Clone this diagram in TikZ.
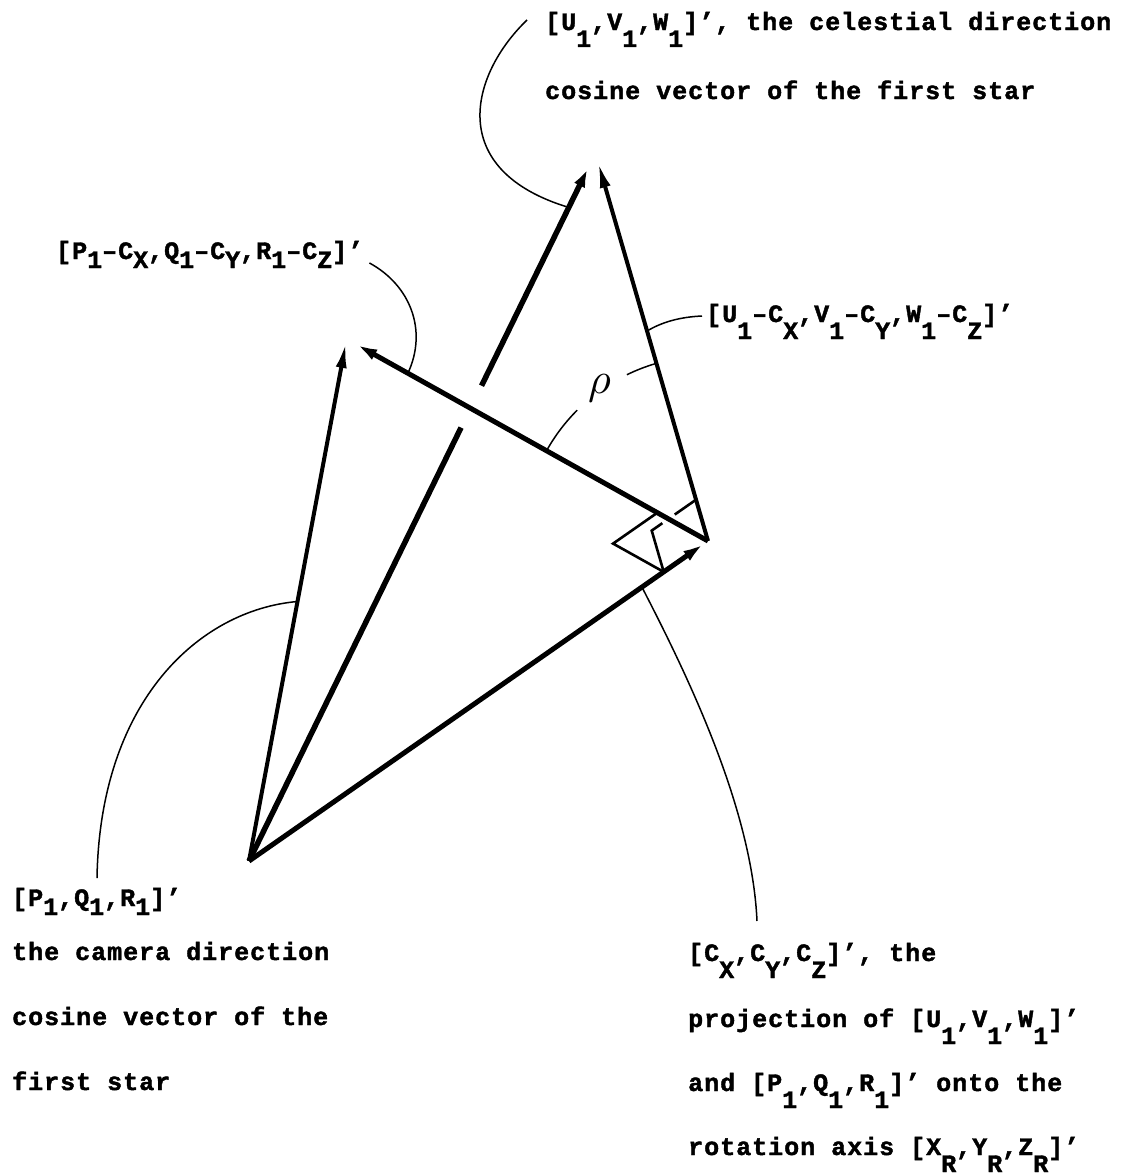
\documentclass[tikz,border=0pt]{standalone}
\usepackage{graphicx}
\usepackage{fontspec}
\newfontfamily\tw[LetterSpace=4,FakeBold=1.6]{Liberation Mono}
\usetikzlibrary{arrows.meta,calc}
\newcommand\dn[1]{\raisebox{-17pt}{#1}}
\newcommand\dm[1]{\raisebox{-9pt}{#1}}
\begin{document}
\begin{tikzpicture}[x=1pt,y=-1pt,
  lbl/.style={inner sep=0pt, anchor=base west, font=\tw\bfseries\fontsize{25}{25}\selectfont},
  vec/.style={line width=5pt, -{Latex[length=26pt,width=11pt]}},
  bar/.style={line width=5.5pt},
  lead/.style={line width=1.5pt},
  rmark/.style={line width=2.6pt, line join=miter}]
\useasboundingbox (0,0) rectangle (1142,1175);
% geometry
\coordinate (O) at (249,861);
\coordinate (P) at (346,342);
\coordinate (Pc) at (352,342);
\coordinate (C) at (708,541);
\coordinate (Uo) at (591,162);
\coordinate (Uc) at (598,162);
% vectors
\draw[vec, line width=4pt] (O) -- (P);
\draw[bar] (O) -- ($(O)!0.62!(Uo)$);
\draw[vec, line width=5.5pt] ($(O)!0.68!(Uo)$) -- (Uo);
\draw[vec] (O) -- (C);
\draw[vec, line width=4pt] (C) -- (Uc);
\draw[vec] (C) -- (Pc);
% right-angle marks
\coordinate (A) at ($(C)!58pt!(Pc)$);
\coordinate (B) at ($(C)!54pt!(O)$);
\coordinate (E) at ($(C)!43pt!(Uc)$);
\coordinate (L) at ($(A)+(B)-(C)$);
\coordinate (K) at ($(B)+(E)-(C)$);
\draw[rmark] (A) -- (L) -- (B);
\draw[rmark] (B) -- (K) -- ($(K)!0.24!(E)$);
\draw[rmark] ($(K)!0.52!(E)$) -- (E);
% rho angle
\draw[lead] (C) ++(-150.8:185) arc[start angle=-150.8, end angle=-135, radius=185];
\draw[lead] (C) ++(-116:185) arc[start angle=-116, end angle=-106.2, radius=185];
\node[inner sep=0pt] (rho) at ($(C)+(-125.5:187)$) {\scalebox{4.4}{$\rho$}};
% labels
\node[lbl] (tU) at (545,30) {[U\dn{1},V\dn{1},W\dn{1}]’, the celestial direction};
\node[lbl] (tU2) at (545,99) {cosine vector of the first star};
\node[lbl] (tPC) at (56,259) {[P\dm{1}–C\dm{X},Q\dm{1}–C\dm{Y},R\dm{1}–C\dm{Z}]’};
\node[lbl] (tUC) at (706,322) {[U\dn{1}–C\dn{X},V\dn{1}–C\dn{Y},W\dn{1}–C\dn{Z}]’};
\node[lbl] (tP) at (12,906) {[P\dm{1},Q\dm{1},R\dm{1}]’};
\node[lbl] (tP2) at (12,960) {the camera direction};
\node[lbl] (tP3) at (12,1025) {cosine vector of the};
\node[lbl] (tP4) at (12,1090) {first star};
\node[lbl] (tC) at (688,961) {[C\dn{X},C\dn{Y},C\dn{Z}]’, the};
\node[lbl] (tC2) at (688,1027) {projection of [U\dn{1},V\dn{1},W\dn{1}]’};
\node[lbl] (tC3) at (688,1091) {and [P\dn{1},Q\dn{1},R\dn{1}]’ onto the};
\node[lbl] (tC4) at (688,1155) {rotation axis [X\dn{R},Y\dn{R},Z\dn{R}]’};
% leader lines
\coordinate (uS) at ($(tU.base west)+(-18,-10)$);
\coordinate (uE) at ($(O)!0.935!(Uo)$);
\draw[lead] (uS) .. controls (470,75) and (445,170) .. (uE);
\coordinate (pcS) at ($(tPC.base east)+(6,4)$);
\coordinate (pcE) at ($(C)!0.843!(Pc)$);
\draw[lead] (pcS) .. controls (410,285) and (428,330) .. (pcE);
\coordinate (ucS) at ($(tUC.base west)+(-4,-6)$);
\coordinate (ucE) at ($(C)!0.554!(Uc)$);
\draw[lead] (ucS) .. controls (680,317) and (662,322) .. (ucE);
\coordinate (pS) at ($(tP.base west)+(85,-28)$);
\coordinate (pE) at ($(O)!0.5!(P)$);
\draw[lead] (pS) .. controls (100,700) and (200,610) .. (pE);
\coordinate (cS) at ($(tC.base west)+(69,-40)$);
\coordinate (cE) at ($(C)!0.144!(O)$);
\draw[lead] (cE) .. controls (690,680) and (752,810) .. (cS);
\end{tikzpicture}
\end{document}
